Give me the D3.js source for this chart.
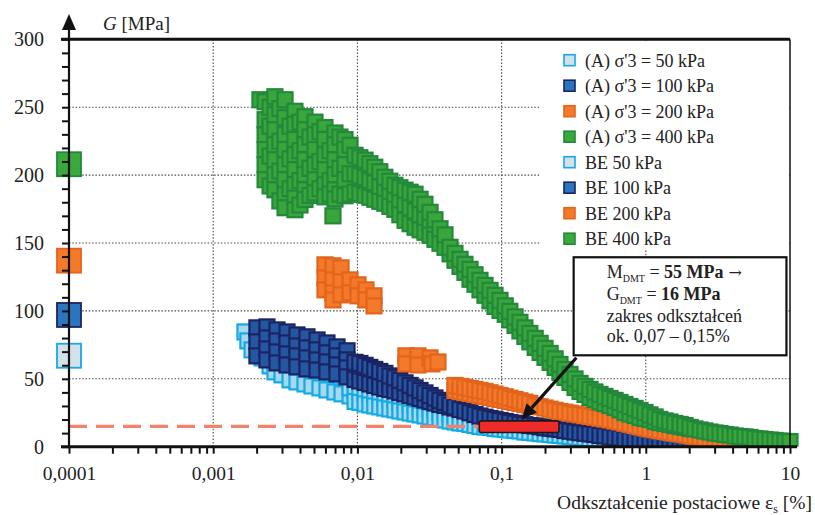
<!DOCTYPE html>
<html>
<head>
<meta charset="utf-8">
<script src="https://cdn.jsdelivr.net/npm/d3@7"></script>
<style>
  body { margin: 0; background: #fff; }
  svg { display: block; font-family: "Liberation Serif", "Times New Roman", serif; }
</style>
</head>
<body>
<svg id="chart" width="815" height="515"></svg>
<script>
// ---- values ----
// strain columns [%] used for the dense bands (left to right)
const strainCols = [
  0.00963, 0.0104, 0.0113, 0.0122, 0.0132, 0.0143, 0.0155, 0.0168, 0.0182, 0.0197,
  0.0214, 0.0232, 0.0251, 0.0272, 0.0294, 0.0319, 0.0345, 0.0374, 0.0405, 0.0439,
  0.0475, 0.0515, 0.0557, 0.0604, 0.0654, 0.0708, 0.0767, 0.0831, 0.090, 0.0975,
  0.106, 0.114, 0.124, 0.134, 0.145, 0.157, 0.171, 0.185, 0.200, 0.217,
  0.235, 0.254, 0.275, 0.298, 0.323, 0.350, 0.379, 0.410, 0.444, 0.481,
  0.521, 0.565, 0.612, 0.662, 0.717, 0.777, 0.842, 0.912, 0.987, 1.07,
  1.16, 1.25, 1.36, 1.47, 1.59, 1.73, 1.87, 2.03, 2.19, 2.38,
  2.57, 2.79, 3.02, 3.27, 3.54, 3.84, 4.16, 4.50, 4.87, 5.28,
  5.72, 6.19, 6.71, 7.27, 7.87, 8.52, 9.23, 10
];

// (A) sigma'3 = 50 kPa
const a50Cloud = [
  [0.00166, 84.5], [0.00174, 77.9], [0.00186, 71.3], [0.00218, 65.4], [0.00229, 71.3],
  [0.00248, 59.5], [0.00268, 55.1], [0.003, 52.9], [0.00315, 67.6], [0.00341, 49.2],
  [0.00381, 47.7], [0.004, 62.4], [0.00433, 46.2], [0.00484, 44.7], [0.00508, 58.0],
  [0.0055, 43.3], [0.00615, 41.8], [0.00646, 54.3], [0.00699, 40.3], [0.00782, 38.9],
  [0.0082, 50.6], [0.00889, 37.4], [0.00889, 43.3]
];
const a50Upper = [41.4, 40.5, 39.4, 38.5, 37.6, 36.6, 35.7, 35.0, 34.1, 33.1,
  32.2, 31.3, 30.4, 29.4, 28.5, 27.6, 26.7, 25.8, 25.0, 24.1, 23.4];
const a50Band = [
  33.3, 32.6, 31.5, 30.7, 30.0, 29.3, 28.5, 27.8, 27.1, 26.3,
  25.6, 24.8, 24.1, 23.4, 22.6, 21.9, 21.2, 20.4, 19.7, 18.9,
  18.2, 17.5, 17.1, 16.4, 15.6, 14.9, 14.5, 14.2, 13.4, 13.1,
  12.7, 12.3, 11.9, 11.6, 10.8, 10.5, 10.1, 9.7, 9.4, 9.0,
  8.6, 8.3, 7.9, 7.5, 7.2, 6.8, 6.4, 6.0, 5.7, 5.7,
  5.3, 4.9, 4.6, 4.2, 4.2, 3.8, 3.5, 3.5, 3.1, 2.7,
  2.7, 2.4, 2.4, 2.0, 2.0, 1.6, 1.6, 1.3, 1.3, 1.0,
  1.0, 1.0, 1.0, 1.0, 1.0, 1.0, 1.0, 1.0, 1.0, 1.0,
  1.0, 1.0, 1.0, 1.0, 1.0, 1.0, 1.0
];

// (A) sigma'3 = 100 kPa
const a100Cloud = [
  [0.00201, 87.5], [0.00201, 77.2], [0.00201, 66.9],
  [0.00236, 88.2], [0.00236, 80.1], [0.00236, 72.0], [0.00236, 63.9],
  [0.00277, 86.0], [0.00277, 77.9], [0.00277, 69.8], [0.00277, 61.7],
  [0.00325, 84.5], [0.00325, 76.4], [0.00325, 68.3], [0.00325, 60.2],
  [0.00381, 82.3], [0.00381, 74.2], [0.00381, 66.9], [0.00381, 58.8],
  [0.00447, 80.9], [0.00447, 72.8], [0.00447, 65.4], [0.00447, 57.3],
  [0.00525, 78.6], [0.00525, 71.3], [0.00525, 63.9], [0.00525, 56.5],
  [0.00615, 76.4], [0.00615, 69.1], [0.00615, 62.4], [0.00615, 55.1],
  [0.00722, 73.5], [0.00722, 66.9], [0.00722, 60.2], [0.00722, 53.6],
  [0.00847, 70.6], [0.00847, 63.9], [0.00847, 58.0], [0.00847, 51.4]
];
const a100Upper = [
  62.1, 61.3, 59.9, 58.4, 56.9, 55.4, 54.0, 52.1, 50.7, 48.8,
  47.0, 45.1, 43.3, 41.4, 39.6, 37.7, 35.9, 34.1, 32.6, 30.7,
  29.3, 27.4, 26.3, 25.0, 23.7, 22.6, 21.7, 20.8, 20.1, 19.3,
  18.6, 17.8, 17.3, 16.7, 16.2, 15.6, 15.3, 14.7, 14.0, 13.6,
  13.1, 12.7, 11.9, 11.4, 10.8, 10.3, 9.9, 9.4, 9.0, 8.3,
  7.9, 7.2, 6.8, 6.4, 5.7, 5.3, 4.9, 4.6, 4.2, 3.8,
  3.5, 3.1, 3.1, 3.0, 2.9, 2.8, 2.7, 2.6, 2.5, 2.4,
  2.4, 2.3, 2.3, 2.2, 2.2, 2.1, 2.1, 2.0, 2.0, 2.0,
  2.0, 2.0, 2.0, 2.0, 2.0, 2.0, 2.0
];
const a100Mid = [55.8, 55.1, 53.6, 52.1, 51.0, 49.9, 48.4, 47.0, 45.9, 44.4];
const a100Lower = [49.5, 48.4, 47.3, 46.2, 45.1, 44.0, 42.9, 42.2, 41.1, 39.9,
  38.9, 37.7, 36.6, 35.5, 34.4, 33.3, 32.2, 31.1, 30.4, 29.3, 28.5];

// (A) sigma'3 = 200 kPa
const a200Cloud = [
  [0.00596, 133.9], [0.00596, 124.3], [0.00596, 115.5],
  [0.00677, 133.2], [0.00677, 122.8], [0.00677, 113.3], [0.00677, 108.1],
  [0.0077, 131.7], [0.0077, 121.4], [0.0077, 111.8],
  [0.00889, 122.8], [0.00889, 113.3],
  [0.0101, 119.2], [0.0101, 111.1],
  [0.01147, 115.5], [0.01147, 108.1],
  [0.01304, 111.1], [0.01304, 103.7],
  [0.0217, 66.9], [0.0263, 66.9], [0.0319, 65.4], [0.0362, 62.4],
  [0.0217, 61.0], [0.0263, 60.2], [0.0329, 61.0]
];
const a200From = 20; // band starts at strainCols[20]
const a200Upper = [
  45.1, 44.4, 43.6, 42.9, 42.2, 41.4, 40.7, 39.7, 38.7, 37.7, 36.8, 35.7, 34.8, 33.8, 32.8, 31.9,
  30.2, 29.4, 28.5, 27.6, 26.8, 25.9, 25.4, 24.7, 24.1, 23.5,
  22.9, 22.3, 21.7, 21.0, 20.4, 19.7, 18.9, 18.2, 17.3, 16.5,
  15.6, 14.7, 13.9, 13.1, 12.5, 11.8, 11.2, 10.6, 9.9, 9.4,
  8.8, 8.1, 7.5, 6.9, 6.3, 5.7, 5.1, 4.4, 3.8, 3.1,
  2.7, 2.4, 1.8, 1.5, 1.3
];
const a200Lower = [41.4, 40.7, 39.9, 39.2, 38.5, 37.7, 37.0, 36.3, 35.5, 34.8,
  34.1, 33.3, 32.6, 31.9, 31.1, 30.4];

// (A) sigma'3 = 400 kPa
const a400Cloud = [
  [0.00211, 255.5],
  [0.00229, 254], [0.00229, 240.8], [0.00229, 229.7], [0.00229, 218.8], [0.00229, 207.6], [0.00229, 196.6],
  [0.00248, 250], [0.00248, 236], [0.00248, 214], [0.00248, 192],
  [0.00268, 257.7], [0.00268, 244.5], [0.00268, 233.4], [0.00268, 222.4], [0.00268, 211.3], [0.00268, 200.3], [0.00268, 189.2],
  [0.0029, 249], [0.0029, 225], [0.0029, 203], [0.0029, 181],
  [0.00315, 255.5], [0.00315, 242.3], [0.00315, 229.7], [0.00315, 218.8], [0.00315, 207.6], [0.00315, 196.6], [0.00315, 185.5], [0.00315, 176],
  [0.00341, 236], [0.00341, 212], [0.00341, 190],
  [0.00369, 247], [0.00369, 237.5], [0.00369, 226.3], [0.00369, 215], [0.00369, 204], [0.00369, 193], [0.00369, 183], [0.00369, 174.5],
  [0.004, 239], [0.004, 218], [0.004, 196], [0.004, 178],
  [0.00433, 243], [0.00433, 233.4], [0.00433, 222.4], [0.00433, 211.3], [0.00433, 200.3], [0.00433, 189.2], [0.00433, 182],
  [0.00469, 228], [0.00469, 205], [0.00469, 185],
  [0.00508, 239], [0.00508, 229.7], [0.00508, 218.8], [0.00508, 207.6], [0.00508, 196.6], [0.00508, 186.9],
  [0.0055, 232], [0.0055, 210], [0.0055, 190],
  [0.00596, 235], [0.00596, 226.3], [0.00596, 215], [0.00596, 204], [0.00596, 193], [0.00596, 184],
  [0.00646, 218], [0.00646, 196], [0.00646, 186],
  [0.00699, 231], [0.00699, 222.4], [0.00699, 211.3], [0.00699, 200.3], [0.00699, 189.2], [0.00699, 182.4],
  [0.00757, 228], [0.00757, 205], [0.00757, 186],
  [0.0082, 226.1], [0.0082, 218.8], [0.0082, 207.6], [0.0082, 196.6], [0.0082, 184.8],
  [0.00889, 222], [0.00889, 201], [0.00889, 186],
  [0.00677, 170]
];
const a400Upper = [
  214.6, 212.8, 211.0, 208.4, 205.8, 202.5, 198.4, 195.5, 192.5, 190.7,
  188.9, 187.4, 185.9, 182.2, 178.5, 172.6, 167.1, 160.5, 156.0, 146.8,
  142.4, 138.0, 134.3, 130.6, 126.6, 122.5, 118.8, 115.1, 111.5, 107.8,
  103.7, 99.7, 95.6, 91.6, 87.5, 83.4, 79.8, 76.1, 72.4, 68.7,
  64.7, 60.6, 56.9, 53.2, 49.9, 46.6, 44.4, 42.2, 40.3, 38.5,
  37.0, 35.5, 34.1, 32.6, 31.1, 29.6, 28.2, 26.7, 25.2, 23.4,
  21.9, 20.1, 19.0, 18.2, 17.1, 16.4, 15.6, 14.2,
  13.1, 12.3, 11.6, 10.8, 10.1, 9.7, 9.0, 8.6, 7.9, 7.5,
  7.2, 6.8, 6.0, 5.7, 5.3, 4.9, 4.6, 4.2, 3.8, 3.8
];
const a400Mid = [201.0, 199.5, 198.1, 195.9, 194.4, 191.4, 189.2, 186.3, 184.1, 181.1,
  178.2, 176.0, 173.7, 170.8, 168.6, 164.2, 159.7];
const a400Lower = [
  187.4, 186.3, 185.2, 183.7, 182.2, 180.7, 179.3, 177.0, 174.8, 170.8,
  166.7, 164.2, 161.6, 159.7, 157.9, 155.7, 152.7, 149.8, 146.8, 142.0,
  137.3, 132.8, 128.4, 123.3, 119.6, 115.5, 111.5, 107.4, 103.3, 100.4,
  97.5, 93.4, 89.3, 85.3, 81.2, 77.2, 73.1, 69.4, 65.8, 62.1,
  58.4, 54.7, 51.0, 47.3, 43.6, 40.7, 38.5, 36.3, 34.8, 33.0,
  31.8, 30.4, 28.9, 27.1, 25.2, 24.1, 23.0, 21.5, 20.8, 20.1,
  18.6, 17.8, 17.1, 16.4, 15.6, 14.9, 14.2, 13.4
];

// bender element values at the first strain
const beStrain = 0.0001;
const beValues = [67, 97, 137, 208];

const legendLabels = ["(A) σ'3 = 50 kPa", "(A) σ'3 = 100 kPa", "(A) σ'3 = 200 kPa", "(A) σ'3 = 400 kPa",
  "BE 50 kPa", "BE 100 kPa", "BE 200 kPa", "BE 400 kPa"];
const yTickLabels = [0, 50, 100, 150, 200, 250, 300];
const xDecades = [0.0001, 0.001, 0.01, 0.1, 1, 10];
const xTickLabels = ["0,0001", "0,001", "0,01", "0,1", "1", "10"];

const dmtG = 15;                 // dashed level
const dmtRange = [0.07, 0.25];   // red bar strain span
const dmtBarG = [10.5, 19];
const noteLines = ["zakres odkształceń", "ok. 0,07 – 0,15%"];

// ---- drawing ----
// dense test series and the (lighter) legend / bender element swatches
const styles = [
  { fill: "#a6d8f0", stroke: "#13aae6", swatch: "#d5e1e9" },
  { fill: "#2556a1", stroke: "#1b2463", swatch: "#2a75bf" },
  { fill: "#f37a2b", stroke: "#e4641c", swatch: "#f37a2b" },
  { fill: "#38a63b", stroke: "#23883a", swatch: "#3aa83c" }
];

const band = (vals, from = 0) => vals.map((g, i) => [strainCols[from + i], g]);
const byStrain = pts => pts.slice().sort((a, b) => a[0] - b[0]);

const series = [
  byStrain(a50Cloud.concat(band(a50Upper), band(a50Band))),
  byStrain(a100Cloud.concat(band(a100Mid), band(a100Lower), band(a100Upper))),
  byStrain(a200Cloud.concat(band(a200Lower, a200From), band(a200Upper, a200From))),
  byStrain(a400Cloud.concat(band(a400Mid), band(a400Lower), band(a400Upper)))
];

const x = d3.scaleLog().domain([0.0001, 10]).range([69, 790]);
const y = d3.scaleLinear().domain([0, 300]).range([446.7, 39.3]);

const svg = d3.select("#chart");
const defs = svg.append("defs");
defs.append("clipPath").attr("id", "plot-clip").append("rect")
  .attr("x", 40).attr("y", 20).attr("width", 770).attr("height", y(0) - 20);

// grid
const grid = svg.append("g").attr("stroke", "#4a4a4a").attr("stroke-width", 1.1).attr("stroke-dasharray", "1.5,1.8");
grid.selectAll(".gh").data(yTickLabels.filter(v => v > 0 && v < 300)).join("line")
  .attr("x1", x(0.0001)).attr("x2", x(10))
  .attr("y1", d => y(d)).attr("y2", d => y(d));
grid.selectAll(".gv").data(xDecades.filter(v => v > 0.0001 && v < 10)).join("line")
  .attr("x1", d => x(d)).attr("x2", d => x(d))
  .attr("y1", y(0)).attr("y2", y(300));

// scatter
const MS = 15;
const plot = svg.append("g").attr("clip-path", "url(#plot-clip)");
series.forEach((pts, i) => {
  plot.append("g")
    .selectAll("rect").data(pts).join("rect")
    .attr("x", d => x(d[0]) - MS / 2)
    .attr("y", d => y(d[1]) - MS / 2)
    .attr("width", MS).attr("height", MS)
    .attr("fill", styles[i].fill)
    .attr("stroke", styles[i].stroke)
    .attr("stroke-width", 2.2);
});
plot.append("g").selectAll("rect").data(beValues).join("rect")
  .attr("x", x(beStrain) - 12)
  .attr("y", d => y(d) - 12)
  .attr("width", 24).attr("height", 24)
  .attr("fill", (d, i) => styles[i].swatch)
  .attr("stroke", (d, i) => styles[i].stroke)
  .attr("stroke-width", 1.8);

// DMT level and strain range
svg.append("line")
  .attr("x1", x(0.0001)).attr("x2", x(dmtRange[0]))
  .attr("y1", y(dmtG)).attr("y2", y(dmtG))
  .attr("stroke", "#f2826a").attr("stroke-width", 3.2)
  .attr("stroke-dasharray", "18,9");

svg.append("rect")
  .attr("x", x(dmtRange[0])).attr("y", y(dmtBarG[1]))
  .attr("width", x(dmtRange[1]) - x(dmtRange[0]))
  .attr("height", y(dmtBarG[0]) - y(dmtBarG[1]))
  .attr("rx", 2)
  .attr("fill", "#ee2a2a").attr("stroke", "#1a1a1a").attr("stroke-width", 1.6);

// legend
svg.append("rect").attr("x", 540).attr("y", 41).attr("width", 249).attr("height", 209).attr("fill", "#fff");
const leg = svg.append("g");
legendLabels.forEach((lab, i) => {
  const by = 66.7 + i * 25.5;
  const st = styles[i % 4];
  leg.append("rect")
    .attr("x", 564).attr("y", by - 12).attr("width", 11).attr("height", 11)
    .attr("fill", st.swatch)
    .attr("stroke", st.stroke).attr("stroke-width", 1.6);
  leg.append("text").attr("x", 585).attr("y", by)
    .attr("font-size", 18).attr("fill", "#222").text(lab);
});

// annotation box
const bx0 = x(0.316), bx1 = x(9.45), by0 = y(139.5), by1 = y(67.3);
svg.append("rect").attr("x", bx0).attr("y", by0).attr("width", bx1 - bx0).attr("height", by1 - by0)
  .attr("fill", "#fff").attr("stroke", "#111").attr("stroke-width", 2.2);
const note = svg.append("g").attr("font-size", 18).attr("fill", "#222");
const t1 = note.append("text").attr("x", bx0 + 33).attr("y", by0 + 21);
t1.append("tspan").text("M");
t1.append("tspan").attr("font-size", 10).attr("dy", 3.5).text("DMT");
t1.append("tspan").attr("dy", -3.5).text(" = ");
t1.append("tspan").attr("font-weight", "bold").text("55 MPa");
t1.append("tspan").attr("font-family", "DejaVu Serif").attr("font-size", 16).text(" →");
const t2 = note.append("text").attr("x", bx0 + 33).attr("y", by0 + 43);
t2.append("tspan").text("G");
t2.append("tspan").attr("font-size", 10).attr("dy", 3.5).text("DMT");
t2.append("tspan").attr("dy", -3.5).text(" = ");
t2.append("tspan").attr("font-weight", "bold").text("16 MPa");
noteLines.forEach((s, i) => {
  note.append("text").attr("x", bx0 + 33).attr("y", by0 + 65 + i * 20).text(s);
});

// arrow from the box to the bar
const a0 = [x(0.33), y(65.5)], a1 = [x(0.138), y(20.3)];
const ang = Math.atan2(a1[1] - a0[1], a1[0] - a0[0]);
const hl = 15, hw = 7;
const base = [a1[0] - hl * Math.cos(ang), a1[1] - hl * Math.sin(ang)];
svg.append("line")
  .attr("x1", a0[0]).attr("y1", a0[1]).attr("x2", base[0]).attr("y2", base[1])
  .attr("stroke", "#111").attr("stroke-width", 3.2);
svg.append("path")
  .attr("d", `M${a1[0]},${a1[1]} L${base[0] + hw * Math.sin(ang)},${base[1] - hw * Math.cos(ang)} L${base[0] - hw * Math.sin(ang)},${base[1] + hw * Math.cos(ang)} Z`)
  .attr("fill", "#111");

// axes
const yAxis = d3.axisLeft(y)
  .tickValues(d3.range(0, 301, 10))
  .tickSize(7).tickPadding(18)
  .tickFormat(d => yTickLabels.includes(d) ? d : "");
const yg = svg.append("g").attr("transform", `translate(${x(0.0001)},0)`).call(yAxis);

const xTicks = [];
xDecades.slice(0, -1).forEach(d => { for (let m = 1; m < 10; m++) xTicks.push(d * m); });
xTicks.push(10);
const xAxis = d3.axisBottom(x)
  .tickValues(xTicks)
  .tickSize(7).tickPadding(12)
  .tickFormat(d => {
    const k = xDecades.findIndex(v => Math.abs(v - d) < v * 1e-6);
    return k >= 0 ? xTickLabels[k] : "";
  });
const xg = svg.append("g").attr("transform", `translate(0,${y(0)})`).call(xAxis);

[yg, xg].forEach(g => {
  g.select(".domain").remove();
  g.selectAll(".tick line").attr("stroke", "#111").attr("stroke-width", 2);
  g.selectAll(".tick text").attr("fill", "#222").attr("font-family", "Liberation Serif");
});
yg.selectAll(".tick text").attr("font-size", 20);
xg.selectAll(".tick text").attr("font-size", 19.5);

// frame lines
svg.append("line").attr("x1", 61).attr("x2", 797).attr("y1", y(0)).attr("y2", y(0))
  .attr("stroke", "#111").attr("stroke-width", 3);
svg.append("line").attr("x1", 61).attr("x2", x(10)).attr("y1", y(300)).attr("y2", y(300))
  .attr("stroke", "#111").attr("stroke-width", 3);
svg.append("line").attr("x1", x(10)).attr("x2", x(10)).attr("y1", y(300)).attr("y2", y(0))
  .attr("stroke", "#111").attr("stroke-width", 1.5);
svg.append("line").attr("x1", x(0.0001)).attr("x2", x(0.0001)).attr("y1", y(0)).attr("y2", 28)
  .attr("stroke", "#111").attr("stroke-width", 2.2);
svg.append("path").attr("d", `M${x(0.0001)},14 L${x(0.0001) - 7},30 L${x(0.0001) + 7},30 Z`).attr("fill", "#111");

// axis titles
const yt = svg.append("text").attr("x", 103).attr("y", 30).attr("font-size", 19).attr("fill", "#222");
yt.append("tspan").attr("font-style", "italic").text("G");
yt.append("tspan").text(" [MPa]");

const xt = svg.append("text").attr("x", 812).attr("y", 509).attr("font-size", 19.5)
  .attr("text-anchor", "end").attr("fill", "#222");
xt.append("tspan").text("Odkształcenie postaciowe ε");
xt.append("tspan").attr("font-size", 12).attr("dy", 4).text("s");
xt.append("tspan").attr("dy", -4).text(" [%]");
</script>
</body>
</html>
